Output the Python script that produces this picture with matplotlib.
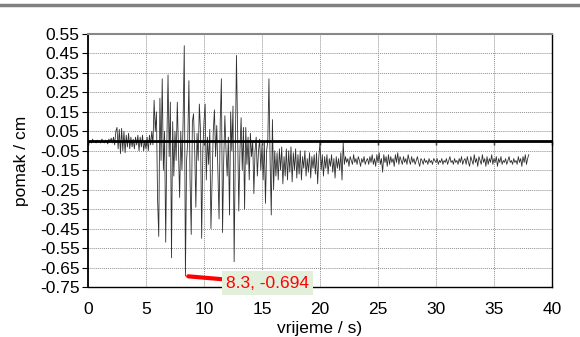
import numpy as np
import matplotlib.pyplot as plt
from matplotlib.lines import Line2D

plt.rcParams['font.family'] = ['Liberation Sans', 'DejaVu Sans']

DT = 0.1  # sampling step of the record, s

# displacement in cm, one value every 0.1 s starting at t = 0
QUIET = [0.0, -0.01, 0.0, -0.01, 0.01, -0.005, 0.0, -0.01, 0.005, -0.005,
         0.0, -0.01, 0.01, 0.0, -0.01, 0.005, 0.0, -0.015, 0.01, -0.005,
         0.015]
PWAVE = [-0.01, 0.02, -0.02, 0.05, 0.07, -0.04, 0.06, -0.065, 0.065, -0.05,
         0.05, -0.06, 0.03, -0.03, 0.04, -0.04, 0.02, -0.03, 0.01, -0.04,
         0.02, -0.02, 0.03, -0.05, 0.02, -0.03, 0.03, -0.05, 0.0, -0.04,
         0.02, -0.05, 0.03, -0.02, 0.05]
STRONG = [-0.02, 0.21, 0.05, 0.15, -0.30, -0.49, 0.22, -0.10, 0.32, -0.15,
          0.05, -0.52, 0.0, 0.34, -0.08, 0.20, -0.60, 0.10, -0.18, 0.05,
          -0.10, 0.20, -0.05, -0.29, 0.05, -0.15, 0.10, 0.49, -0.694, -0.10,
          0.0, 0.31, -0.20, -0.48, 0.10, 0.14, -0.05, -0.34, 0.04, -0.10,
          0.19, 0.05, -0.50, -0.05, 0.10, 0.19, -0.20, 0.02, -0.12, 0.06,
          -0.45, -0.19, 0.05, 0.16, -0.08, 0.08, -0.15, -0.40, 0.10, 0.32,
          -0.47, -0.10, 0.13, -0.05, -0.18, 0.02, -0.38, 0.15, -0.05, 0.18,
          -0.62, -0.05, 0.44, 0.05, -0.36, -0.05, 0.12, -0.15, 0.07, -0.35,
          0.07, -0.12, 0.02, -0.20, 0.04, -0.08, 0.0, -0.27, -0.05, 0.02,
          -0.18, -0.05, 0.01, -0.15, -0.02, -0.20, 0.0, -0.32, -0.05, 0.0,
          0.32, -0.10, -0.38, 0.11, -0.25]
CODA = [-0.05, -0.18, -0.06, -0.20, -0.04, -0.15, -0.03, -0.22, -0.08, -0.18,
        -0.04, -0.20, -0.05, -0.16, -0.03, -0.21, -0.06, -0.15, -0.04, -0.19,
        -0.07, -0.17, -0.05, -0.20, -0.08, -0.14, -0.05, -0.18, -0.09, -0.16,
        -0.06, -0.19, -0.08, -0.14, -0.07, -0.17, -0.06, -0.22, -0.08, -0.01,
        -0.15, -0.07, -0.18, -0.08, -0.14, -0.07, -0.17, -0.09, -0.13, -0.07,
        -0.16, -0.09, -0.19, -0.08, -0.14, -0.09, -0.15, -0.06, -0.20, -0.01]
TAIL = [-0.12, -0.08, -0.11, -0.09, -0.13, -0.08, -0.10, -0.12, -0.07, -0.11,
        -0.09, -0.12, -0.08, -0.10, -0.13, -0.09, -0.11, -0.08, -0.12, -0.10,
        -0.09, -0.12, -0.08, -0.11, -0.07, -0.12, -0.09, -0.13, -0.07, -0.11,
        -0.06, -0.12, -0.09, -0.16, -0.07, -0.11, -0.08, -0.13, -0.07, -0.12,
        -0.08, -0.11, -0.09, -0.13, -0.07, -0.11, -0.06, -0.12, -0.08, -0.10,
        -0.12, -0.08, -0.11, -0.09, -0.12, -0.07, -0.10, -0.12, -0.08, -0.11,
        -0.09, -0.12, -0.10, -0.08, -0.11, -0.13, -0.09, -0.10, -0.12, -0.09,
        -0.11, -0.10, -0.12, -0.09, -0.11, -0.10, -0.12, -0.09, -0.10, -0.11,
        -0.09, -0.12, -0.10, -0.11, -0.09, -0.12, -0.10, -0.11, -0.09, -0.12,
        -0.10, -0.08, -0.11, -0.10, -0.12, -0.09, -0.11, -0.10, -0.12, -0.09,
        -0.11, -0.08, -0.12, -0.10, -0.09, -0.12, -0.08, -0.11, -0.13, -0.08,
        -0.10, -0.12, -0.07, -0.11, -0.09, -0.13, -0.08, -0.10, -0.12, -0.07,
        -0.11, -0.09, -0.13, -0.08, -0.12, -0.09, -0.11, -0.07, -0.12, -0.09,
        -0.11, -0.08, -0.13, -0.09, -0.11, -0.08, -0.12, -0.10, -0.11, -0.09,
        -0.12, -0.10, -0.08, -0.11, -0.10, -0.12, -0.09, -0.11, -0.10, -0.12,
        -0.08, -0.11, -0.09, -0.13, -0.08, -0.11, -0.07, -0.12, -0.09, -0.07]

PEAK_T, PEAK_V = 8.4, -0.694
PEAK_LABEL = "8.3, -0.694"

XTICKS = [0, 5, 10, 15, 20, 25, 30, 35, 40]
YTICKS = [0.55, 0.45, 0.35, 0.25, 0.15, 0.05, -0.05, -0.15, -0.25,
          -0.35, -0.45, -0.55, -0.65, -0.75]

FS = 12.5


def plot(output="out.png"):
    y = np.array(QUIET + PWAVE + STRONG + CODA + TAIL)
    t = np.arange(len(y)) * DT

    fig = plt.figure(figsize=(5.8, 3.37), dpi=100)
    ax = fig.add_axes([0.1517, 0.1484, 0.8, 0.7507])

    ax.plot(t, y, color="#303030", linewidth=0.6, zorder=3)
    ax.axhline(0, color="black", linewidth=2, zorder=4)

    ax.set_xlim(0, 40)
    ax.set_ylim(-0.75, 0.55)
    ax.set_xticks(XTICKS)
    ax.set_yticks(YTICKS)
    ax.set_yticklabels([f"{v:.2f}" for v in YTICKS])
    ax.tick_params(axis="x", length=0, labelsize=FS, pad=11)
    ax.tick_params(axis="y", length=4, labelsize=FS, pad=2)
    ax.grid(which="major", color="#909090", linestyle=(0, (1, 1)), linewidth=0.7, zorder=0)

    for side in ["left", "bottom", "right"]:
        ax.spines[side].set_color("black")
        ax.spines[side].set_linewidth(1.0)
    ax.spines["left"].set_linewidth(1.3)
    ax.spines["top"].set_color("#888888")
    ax.spines["top"].set_linewidth(1.5)

    # tick marks along the zero line, like the category axis in the original
    zero = ax.secondary_xaxis(0.75 / 1.3)
    zero.set_xticks(XTICKS)
    zero.set_xticklabels([])
    zero.tick_params(axis="x", which="both", length=3, width=1, direction="out",
                     bottom=True, top=False, labelbottom=False, labeltop=False)
    for s in zero.spines.values():
        s.set_visible(False)

    ax.set_xlabel("vrijeme / s)", fontsize=FS, labelpad=3)
    ax.set_ylabel("pomak / cm", fontsize=FS, labelpad=8)

    ax.annotate(PEAK_LABEL, xy=(PEAK_T, PEAK_V), xytext=(11.9, -0.73),
                ha="left", va="center", color="red", fontsize=FS,
                bbox=dict(boxstyle="square,pad=0.25", facecolor="#e2efda", edgecolor="none"),
                arrowprops=dict(arrowstyle="-", color="red", lw=3, shrinkA=0, shrinkB=2),
                annotation_clip=False, zorder=6)

    fig.add_artist(Line2D([0, 1], [0.985, 0.985], color="#808080", linewidth=2.5,
                          transform=fig.transFigure))

    plt.savefig(output)


if __name__ == "__main__":
    plot("out.png")
